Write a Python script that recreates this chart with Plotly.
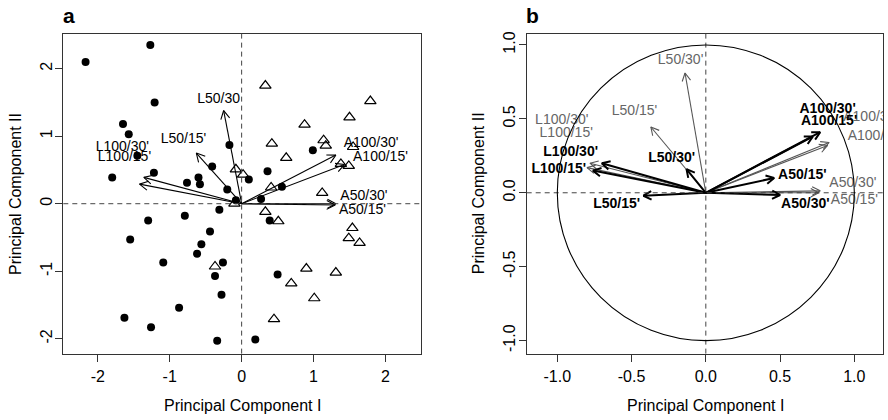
import math
import plotly.graph_objects as go

W, H = 888, 420
FONT = "Liberation Sans, Arial, Helvetica, sans-serif"

# ---------------- Panel a: scores ----------------
dots_x = [-1.27, -2.17, -1.21, -1.65, -1.57, -1.45, -1.80, -1.22, -0.17, -0.41, -0.60, -0.58,
          -0.76, -0.20, 0.10, -0.08, 0.99, 0.36, 0.56, 0.27, -0.31, -0.79, -1.30, -0.44,
          -1.55, -0.56, -0.62, -1.09, -0.26, -0.37, -0.28, -0.87, -1.63, -1.26, -0.34, 0.19,
          0.39, 0.50]
dots_y = [2.35, 2.10, 1.50, 1.18, 1.03, 0.71, 0.39, 0.46, 0.87, 0.55, 0.39, 0.29,
          0.31, 0.21, 0.36, 0.05, 0.79, 0.48, 0.25, 0.07, -0.09, -0.18, -0.25, -0.41,
          -0.53, -0.60, -0.74, -0.87, -0.87, -1.07, -1.35, -1.54, -1.69, -1.83, -2.03, -2.01,
          -0.25, -1.05]
tri_x = [0.33, 1.79, 1.50, 0.875, 0.42, 1.14, 1.17, 1.55, 0.62, 1.38, 1.49, 0.41, 1.12,
         -0.08, 0.02, -0.37, -0.10, 0.33, 0.51, 1.54, 1.49, 1.64, 0.90, 1.31, 0.69, 1.01, 0.45]
tri_y = [1.75, 1.52, 1.28, 1.17, 0.89, 0.94, 0.86, 0.84, 0.68, 0.59, 0.56, 0.24, 0.16,
         0.51, 0.43, -0.93, 0.00, -0.12, -0.26, -0.36, -0.51, -0.58, -0.96, -1.02, -1.18, -1.40, -1.71]

# ---------------- Panel a: loadings ----------------
a_names = ["L50/30", "L50/15'", "L100/30'", "L100/15'", "A100/30'", "A100/15'", "A50/30'", "A50/15'"]
a_x = [-0.25, -0.63, -1.36, -1.42, 1.31, 1.43, 1.31, 1.30]
a_y = [1.38, 0.75, 0.39, 0.29, 0.72, 0.58, 0.00, -0.02]
a_lab_x = [-0.32, -0.81, -1.66, -1.63, 1.80, 1.93, 1.70, 1.68]
a_lab_y = [1.54, 0.95, 0.835, 0.68, 0.89, 0.68, 0.10, -0.10]

# ---------------- Panel b: grey loadings ----------------
bg_names = ["L50/30'", "L50/15'", "L100/30'", "L100/15'", "A100/30'", "A100/15'", "A50/30'", "A50/15'"]
bg_x = [-0.14, -0.37, -0.78, -0.80, 0.83, 0.82, 0.77, 0.76]
bg_y = [0.81, 0.445, 0.20, 0.17, 0.34, 0.32, 0.013, 0.0]
bg_lab_x = [-0.17, -0.48, -0.97, -0.94, 1.11, 1.14, 0.99, 1.00]
bg_lab_y = [0.895, 0.55, 0.49, 0.40, 0.51, 0.38, 0.06, -0.055]

# ---------------- Panel b: black loadings ----------------
bk_names = ["L50/30'", "L50/15'", "L100/30'", "L100/15'", "A100/30'", "A100/15'", "A50/30'", "A50/15'"]
bk_x = [-0.13, -0.42, -0.70, -0.76, 0.77, 0.72, 0.50, 0.46]
bk_y = [0.16, -0.02, 0.20, 0.15, 0.41, 0.38, -0.015, 0.10]
bk_lab_x = [-0.23, -0.60, -0.91, -0.99, 0.82, 0.83, 0.67, 0.65]
bk_lab_y = [0.23, -0.08, 0.27, 0.16, 0.565, 0.485, -0.076, 0.12]

a_ticks = [-2, -1, 0, 1, 2]
a_tick_text = ["-2", "-1", "0", "1", "2"]
b_ticks = [-1.0, -0.5, 0.0, 0.5, 1.0]
b_tick_text = ["-1.0", "-0.5", "0.0", "0.5", "1.0"]

# ---------------- layout geometry ----------------
xa_dom = [63.3 / W, 420.7 / W]
xb_dom = [526.7 / W, 883.3 / W]
y_dom = [1 - 353.3 / H, 1 - 31.7 / H]
xa_rng = [-2.48, 2.49]
ya_rng = [-2.22, 2.52]
xb_rng = [-1.206, 1.195]
yb_rng = [-1.088, 1.077]


def scale(dom, rng, total):
    return (dom[1] - dom[0]) * total / (rng[1] - rng[0])


def arrows(xs, ys, sx, sy, L=9.5, ang=28):
    X, Y = [], []
    a = math.radians(ang)
    for x, y in zip(xs, ys):
        px, py = x * sx, y * sy
        n = math.hypot(px, py)
        vx, vy = -px / n, -py / n
        X += [0, x, None]
        Y += [0, y, None]
        pts = []
        for s in (1, -1):
            rx = vx * math.cos(s * a) - vy * math.sin(s * a)
            ry = vx * math.sin(s * a) + vy * math.cos(s * a)
            pts.append((x + L * rx / sx, y + L * ry / sy))
        X += [pts[0][0], x, pts[1][0], None]
        Y += [pts[0][1], y, pts[1][1], None]
    return X, Y


sxa, sya = scale(xa_dom, xa_rng, W), scale(y_dom, ya_rng, H)
sxb, syb = scale(xb_dom, xb_rng, W), scale(y_dom, yb_rng, H)

fig = go.Figure()

# panel a points
fig.add_trace(go.Scatter(x=dots_x, y=dots_y, mode="markers", xaxis="x", yaxis="y",
                         marker=dict(symbol="circle", size=8, color="black"), showlegend=False))
fig.add_trace(go.Scatter(x=tri_x, y=tri_y, mode="markers", xaxis="x", yaxis="y",
                         marker=dict(symbol="triangle-up-open", size=10, color="black",
                                     line=dict(width=1.2, color="black")), showlegend=False))
# panel a arrows
ax_, ay_ = arrows(a_x, a_y, sxa, sya)
fig.add_trace(go.Scatter(x=ax_, y=ay_, mode="lines", xaxis="x", yaxis="y",
                         line=dict(color="black", width=1.1), showlegend=False))
fig.add_trace(go.Scatter(x=a_lab_x, y=a_lab_y, text=a_names, mode="text", xaxis="x", yaxis="y",
                         textfont=dict(family=FONT, size=14, color="black"), showlegend=False))

# panel b grey arrows
gx, gy = arrows(bg_x, bg_y, sxb, syb, L=9)
fig.add_trace(go.Scatter(x=gx, y=gy, mode="lines", xaxis="x2", yaxis="y2",
                         line=dict(color="#555555", width=1.1), showlegend=False))
fig.add_trace(go.Scatter(x=bg_lab_x, y=bg_lab_y, text=bg_names, mode="text", xaxis="x2", yaxis="y2",
                         textfont=dict(family=FONT, size=14, color="#666666"), showlegend=False))
# panel b black arrows
kx, ky = arrows(bk_x, bk_y, sxb, syb, L=9)
fig.add_trace(go.Scatter(x=kx, y=ky, mode="lines", xaxis="x2", yaxis="y2",
                         line=dict(color="black", width=2), showlegend=False))
fig.add_trace(go.Scatter(x=bk_lab_x, y=bk_lab_y, text=bk_names, mode="text", xaxis="x2", yaxis="y2",
                         textfont=dict(family=FONT, size=14, color="black", weight="bold"),
                         showlegend=False))

axis_common = dict(showgrid=False, zeroline=False, showline=True, mirror=True,
                   linecolor="#333333", linewidth=1, ticks="outside", ticklen=7,
                   tickcolor="#333333", tickwidth=1,
                   tickfont=dict(family=FONT, size=16, color="black"))

fig.update_layout(
    width=W, height=H,
    margin=dict(l=0, r=0, t=0, b=0),
    paper_bgcolor="white", plot_bgcolor="white",
    showlegend=False,
    xaxis=dict(domain=xa_dom, range=xa_rng, tickvals=a_ticks, ticktext=a_tick_text,
               ticklabelstandoff=1, **axis_common),
    yaxis=dict(domain=y_dom, range=ya_rng, tickvals=a_ticks, ticktext=a_tick_text,
               tickangle=-90, ticklabelstandoff=-3, anchor="x", **axis_common),
    xaxis2=dict(domain=xb_dom, range=xb_rng, tickvals=b_ticks, ticktext=b_tick_text,
                ticklabelstandoff=1, anchor="y2", **axis_common),
    yaxis2=dict(domain=y_dom, range=yb_rng, tickvals=b_ticks, ticktext=b_tick_text,
                tickangle=-90, ticklabelstandoff=-3, anchor="x2", **axis_common),
)

dash = "5px,4px"
shapes = [
    dict(type="line", xref="x", yref="y domain", x0=0, x1=0, y0=0, y1=1,
         line=dict(color="#444444", width=1, dash=dash)),
    dict(type="line", xref="x domain", yref="y", x0=0, x1=1, y0=0, y1=0,
         line=dict(color="#444444", width=1, dash=dash)),
    dict(type="line", xref="x2", yref="y2 domain", x0=0, x1=0, y0=0, y1=1,
         line=dict(color="#444444", width=1, dash=dash)),
    dict(type="line", xref="x2 domain", yref="y2", x0=0, x1=1, y0=0, y1=0,
         line=dict(color="#444444", width=1, dash=dash)),
    dict(type="circle", xref="x2", yref="y2", x0=-1, x1=1, y0=-1, y1=1,
         line=dict(color="black", width=1.1)),
]
fig.update_layout(shapes=shapes)

ann = []
for xd, lab in ((xa_dom, "a"), (xb_dom, "b")):
    ann.append(dict(text="<b>%s</b>" % lab, xref="paper", yref="paper",
                    x=xd[0] + 6 / W, y=1 - 14 / H, showarrow=False,
                    xanchor="center", yanchor="middle",
                    font=dict(family=FONT, size=21, color="black")))
    ann.append(dict(text="Principal Component I", xref="paper", yref="paper",
                    x=(xd[0] + xd[1]) / 2, y=1 - 405 / H, showarrow=False,
                    xanchor="center", yanchor="middle",
                    font=dict(family=FONT, size=16, color="black")))
    ann.append(dict(text="Principal Component II", xref="paper", yref="paper",
                    x=xd[0] - 48 / W, y=(y_dom[0] + y_dom[1]) / 2, showarrow=False,
                    textangle=-90, xanchor="center", yanchor="middle",
                    font=dict(family=FONT, size=16, color="black")))
fig.update_layout(annotations=ann)

fig.write_html("out.html",
               config={"displayModeBar": False},
               post_script="document.body.style.margin='0px';document.body.style.overflow='hidden';")
